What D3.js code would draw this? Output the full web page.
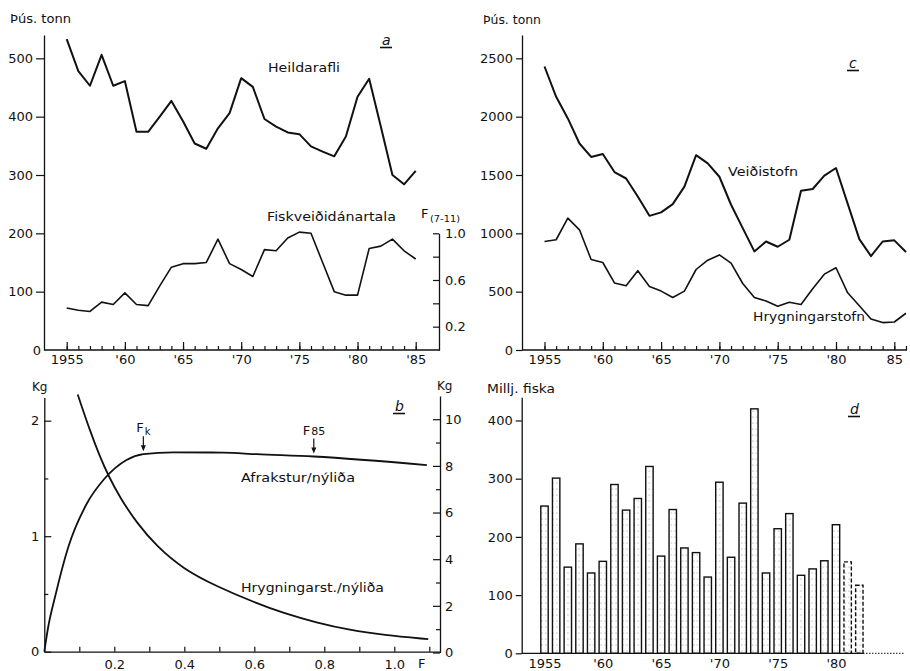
<!DOCTYPE html>
<html>
<head>
<meta charset="utf-8">
<script src="https://cdn.jsdelivr.net/npm/d3@7"></script>
<style>
  body { margin: 0; background: #fff; }
  svg { display: block; background: #fff; }
</style>
</head>
<body>
<svg id="chart" width="910" height="671"></svg>
<script>
// ---- data ----------------------------------------------------------------
// a: total catch (thousand tonnes) and fishing mortality F(7-11), 1955-1985
const yearsA = d3.range(1955, 1986);
const heildarafli = [533, 478, 453, 506, 453, 461, 374, 374, 400, 427, 392, 354, 345, 380, 406,
                     466, 451, 396, 383, 373, 370, 349, 340, 332, 366, 434, 465, 383, 300, 284, 307];
const fiskveidiF = [0.36, 0.34, 0.33, 0.41, 0.39, 0.49, 0.39, 0.38, 0.55, 0.71, 0.74, 0.74, 0.75, 0.95, 0.74,
                    0.69, 0.63, 0.86, 0.85, 0.96, 1.01, 1.00, 0.75, 0.50, 0.47, 0.47, 0.87, 0.89, 0.95, 0.85, 0.78];

// c: fishable stock and spawning stock (thousand tonnes), 1955-1986
const yearsC = d3.range(1955, 1987);
const veidistofn = [2430, 2170, 1985, 1770, 1655, 1680, 1525, 1470, 1315, 1150, 1180, 1250, 1400, 1670, 1600,
                    1485, 1245, 1045, 845, 930, 885, 945, 1365, 1380, 1495, 1560, 1255, 950, 805, 930, 940, 840];
const hrygningarstofn = [930, 945, 1130, 1030, 775, 750, 575, 550, 680, 545, 505, 450, 505, 690, 770,
                         815, 745, 570, 450, 420, 375, 410, 390, 525, 650, 705, 490, 380, 265, 235, 240, 315];

// d: recruits (millions of fish), 1955-1982; the last two are provisional
const yearsD = d3.range(1955, 1983);
const nylidar = [253, 301, 148, 188, 138, 158, 290, 246, 266, 321, 167, 247, 181, 173,
                 131, 294, 165, 258, 420, 138, 214, 240, 134, 145, 159, 221, 157, 117];
const provisionalYears = [1981, 1982];

// b: yield per recruit (kg, left) and spawning stock per recruit (kg, right) against F
const afraksturF  = [0, 0.0106, 0.032, 0.0677, 0.122, 0.1706, 0.2349, 0.2829, 0.3689, 0.511, 0.607, 0.77, 1.093];
const afraksturKg = [0, 0.205, 0.491, 0.898, 1.285, 1.493, 1.66, 1.71, 1.726, 1.724, 1.71, 1.69, 1.615];
const hrygnF  = [0.0954, 0.1306, 0.159, 0.183, 0.217, 0.264, 0.321, 0.397, 0.493, 0.6, 0.683, 0.778, 0.873, 0.969, 1.097];
const hrygnKg = [11.06, 9.50, 8.39, 7.58, 6.62, 5.56, 4.55, 3.58, 2.83, 2.15, 1.69, 1.28, 0.96, 0.75, 0.57];
const refPoints = [{ name: "k", F: 0.283 }, { name: "85", F: 0.77 }];

// tick labels
const tickYears = [1955, 1960, 1965, 1970, 1975, 1980, 1985];
const labelsA = ["1955", "'60", "'65", "'70", "'75", "'80", "'85"];
const labelsC = ["1955", "'60", "'65", "'70", "'75", "'80", "85"];
const labelsD = ["1955", "'60", "'65", "'70", "'75", "'80"];
const ticksA = [100, 200, 300, 400, 500];
const ticksAF = [0.2, 0.4, 0.6, 0.8, 1.0];
const labelsAF = [0.2, 0.6, 1.0];
const ticksC = [0, 500, 1000, 1500, 2000, 2500];
const ticksD = [0, 100, 200, 300, 400];
const ticksBL = [0, 0.5, 1, 1.5, 2];
const ticksBR = d3.range(0, 11);
const ticksBX = d3.range(1, 12).map(d => d / 10);
const labelsBX = [0.2, 0.4, 0.6, 0.8, 1.0];

// ---- setup ---------------------------------------------------------------
const FONT = '"DejaVu Sans", "Liberation Sans", sans-serif';
const INK = "#111";
const svg = d3.select("#chart");
const intFmt = d3.format("d");

function styleAxis(g, size = 13) {
  g.attr("font-family", FONT).attr("font-size", size);
  g.selectAll(".domain").attr("stroke", INK).attr("stroke-width", 1.3);
  g.selectAll(".tick line").attr("stroke", INK).attr("stroke-width", 1.2);
  g.selectAll(".tick text").attr("fill", INK);
}
function label(txt, x, y, opts = {}) {
  const t = svg.append("text").attr("x", x).attr("y", y)
    .attr("font-family", FONT).attr("font-size", opts.size || 12)
    .attr("fill", INK).text(txt);
  if (opts.len) t.attr("textLength", opts.len).attr("lengthAdjust", "spacingAndGlyphs");
  if (opts.anchor) t.attr("text-anchor", opts.anchor);
  if (opts.italic) t.attr("font-style", "italic");
  return t;
}
function panelLetter(ch, x, y) {
  label(ch, x, y, { size: 14, italic: true });
  svg.append("line").attr("x1", x - 2).attr("x2", x + 10).attr("y1", y + 2.5).attr("y2", y + 2.5)
    .attr("stroke", INK).attr("stroke-width", 1.6);
}
function yearAxis(g, x, y, years, majors, labels) {
  g.append("g").attr("transform", `translate(0,${y})`)
    .call(d3.axisBottom(x).tickValues(years).tickSize(-4).tickFormat(""))
    .call(s => s.select(".domain").remove()).call(styleAxis);
  g.append("g").attr("transform", `translate(0,${y})`)
    .call(d3.axisBottom(x).tickValues(majors).tickSize(-8).tickPadding(5)
      .tickFormat((d, i) => labels[i]))
    .call(s => s.select(".domain").remove()).call(styleAxis);
}

// ---- a: total catch and fishing mortality --------------------------------
{
  const x = d3.scaleLinear().domain([1955, 1985]).range([66.7, 415.7]);
  const y = d3.scaleLinear().domain([0, 540]).range([350, 35]);
  const yF = d3.scaleLinear().domain([0, 1]).range([350, 233.3]);
  const g = svg.append("g");

  g.append("line").attr("x1", 44).attr("x2", 440).attr("y1", y(0)).attr("y2", y(0))
    .attr("stroke", INK).attr("stroke-width", 1.3);
  yearAxis(g, x, y(0), yearsA, tickYears, labelsA);

  g.append("g").attr("transform", "translate(44,0)")
    .call(d3.axisLeft(y).tickValues(ticksA).tickSizeInner(8).tickSizeOuter(0).tickPadding(3).tickFormat(intFmt))
    .call(styleAxis);
  label("0", 41, y(0) + 5, { size: 13, anchor: "end" });

  g.append("g").attr("transform", "translate(439,0)")
    .call(d3.axisRight(yF).tickValues(ticksAF).tickSizeInner(-6).tickSizeOuter(0).tickPadding(6)
      .tickFormat(d => labelsAF.includes(d) ? d.toFixed(1) : ""))
    .call(styleAxis);

  g.append("path").datum(heildarafli)
    .attr("d", d3.line().x((d, i) => x(yearsA[i])).y(d => y(d)))
    .attr("fill", "none").attr("stroke", INK).attr("stroke-width", 2).attr("stroke-linejoin", "round");
  g.append("path").datum(fiskveidiF)
    .attr("d", d3.line().x((d, i) => x(yearsA[i])).y(d => yF(d)))
    .attr("fill", "none").attr("stroke", INK).attr("stroke-width", 1.6).attr("stroke-linejoin", "round");

  label("Þús. tonn", 10, 23, { size: 12, len: 61 });
  label("Heildarafli", 268, 72, { size: 12, len: 72 });
  label("Fiskveiðidánartala", 267, 221, { size: 12, len: 129 });
  label("F", 421, 218, { size: 13 });
  label("(7-11)", 430, 222, { size: 9, len: 30 });
  panelLetter("a", 382, 45);
}

// ---- c: fishable and spawning stock --------------------------------------
{
  const x = d3.scaleLinear().domain([1955, 1985]).range([544.5, 894.3]);
  const y = d3.scaleLinear().domain([0, 2700]).range([350, 35]);
  const g = svg.append("g");

  g.append("line").attr("x1", 522).attr("x2", 907).attr("y1", y(0)).attr("y2", y(0))
    .attr("stroke", INK).attr("stroke-width", 1.3);
  yearAxis(g, x, y(0), yearsC, tickYears, labelsC);

  g.append("g").attr("transform", "translate(522,0)")
    .call(d3.axisLeft(y).tickValues(ticksC).tickSizeInner(6).tickSizeOuter(0).tickPadding(3).tickFormat(intFmt))
    .call(styleAxis);

  g.append("path").datum(veidistofn)
    .attr("d", d3.line().x((d, i) => x(yearsC[i])).y(d => y(d)))
    .attr("fill", "none").attr("stroke", INK).attr("stroke-width", 2).attr("stroke-linejoin", "round");
  g.append("path").datum(hrygningarstofn)
    .attr("d", d3.line().x((d, i) => x(yearsC[i])).y(d => y(d)))
    .attr("fill", "none").attr("stroke", INK).attr("stroke-width", 1.6).attr("stroke-linejoin", "round");

  label("Þús. tonn", 483, 24, { size: 12, len: 58 });
  label("Veiðistofn", 728, 176, { size: 12, len: 70 });
  label("Hrygningarstofn", 753, 321, { size: 12, len: 112 });
  panelLetter("c", 849, 68);
}

// ---- b: yield and spawning stock per recruit -----------------------------
{
  const x = d3.scaleLinear().domain([0, 1.13]).range([44.3, 439.8]);
  const yL = d3.scaleLinear().domain([0, 2.2]).range([651.7, 397.6]);
  const yR = d3.scaleLinear().domain([0, 11]).range([652.5, 395.9]);
  const g = svg.append("g");

  g.append("g").attr("transform", `translate(0,${yL(0)})`)
    .call(d3.axisBottom(x).tickValues(ticksBX).tickSizeInner(-5).tickSizeOuter(0).tickPadding(8)
      .tickFormat(d => labelsBX.some(v => Math.abs(v - d) < 1e-9) ? d.toFixed(1) : ""))
    .call(styleAxis);
  label("F", 418, 668, { size: 13 });

  const gl = g.append("g").attr("transform", "translate(44.3,0)")
    .call(d3.axisLeft(yL).tickValues(ticksBL).tickSizeInner(-6).tickSizeOuter(0).tickPadding(5)
      .tickFormat(d => Number.isInteger(d) ? d : ""))
    .call(styleAxis);
  gl.selectAll(".tick line").attr("x2", d => Number.isInteger(d) ? 7 : 4);

  const gr = g.append("g").attr("transform", "translate(440,0)")
    .call(d3.axisRight(yR).tickValues(ticksBR).tickSizeInner(-6).tickSizeOuter(0).tickPadding(5)
      .tickFormat(d => d % 2 === 0 ? d : ""))
    .call(styleAxis);
  gr.selectAll(".tick line").attr("x2", d => d % 2 === 0 ? -7 : -4);

  const yieldPts = afraksturF.map((f, i) => [f, afraksturKg[i]]);
  const ssbPts = hrygnF.map((f, i) => [f, hrygnKg[i]]);
  g.append("path").datum(yieldPts)
    .attr("d", d3.line().curve(d3.curveMonotoneX).x(d => x(d[0])).y(d => yL(d[1])))
    .attr("fill", "none").attr("stroke", INK).attr("stroke-width", 1.8);
  g.append("path").datum(ssbPts)
    .attr("d", d3.line().curve(d3.curveBasis).x(d => x(d[0])).y(d => yR(d[1])))
    .attr("fill", "none").attr("stroke", INK).attr("stroke-width", 1.8);

  // reference-point arrows on the yield curve
  const yieldAt = d3.scaleLinear().domain(afraksturF).range(afraksturKg);
  refPoints.forEach(p => {
    const px = x(p.F), tip = yL(yieldAt(p.F)) - 3;
    g.append("line").attr("x1", px).attr("x2", px).attr("y1", tip - 15).attr("y2", tip - 3)
      .attr("stroke", INK).attr("stroke-width", 1.2);
    g.append("path").attr("d", `M${px - 2.5},${tip - 6}L${px},${tip}L${px + 2.5},${tip - 6}Z`)
      .attr("fill", INK);
  });
  const fk = x(refPoints[0].F), f85 = x(refPoints[1].F);
  label("F", fk - 7, 432, { size: 13 });
  label("k", fk + 1.5, 435, { size: 10 });
  label("F", f85 - 11, 435, { size: 13 });
  label("85", f85 - 2.5, 435, { size: 11 });

  label("Afrakstur/nýliða", 241, 482, { size: 12, len: 114 });
  label("Hrygningarst./nýliða", 241, 592, { size: 12, len: 143 });
  label("Kg", 32, 391, { size: 12 });
  label("Kg", 437, 390, { size: 12 });
  panelLetter("b", 395, 411);
}

// ---- d: recruitment bars --------------------------------------------------
{
  const x = d3.scaleLinear().domain([1955, 1985]).range([544.5, 894.3]);
  const y = d3.scaleLinear().domain([0, 440]).range([653.3, 397.2]);
  const g = svg.append("g");
  const bw = 7.4;

  const defs = svg.append("defs");
  const pat = defs.append("pattern").attr("id", "stipple").attr("patternUnits", "userSpaceOnUse")
    .attr("width", 3.7).attr("height", 6);
  pat.append("rect").attr("width", 3.7).attr("height", 6).attr("fill", "#fff");
  pat.append("circle").attr("cx", 1.85).attr("cy", 3).attr("r", 0.5).attr("fill", "#777");

  g.selectAll("rect.bar").data(nylidar).join("rect").attr("class", "bar")
    .attr("x", (d, i) => x(yearsD[i]) - bw / 2)
    .attr("width", bw)
    .attr("y", d => y(d))
    .attr("height", d => y(0) - y(d))
    .attr("fill", "url(#stipple)")
    .attr("stroke", INK).attr("stroke-width", 1.4)
    .attr("stroke-dasharray", (d, i) => provisionalYears.includes(yearsD[i]) ? "4,2" : null);

  const lastX = x(yearsD[yearsD.length - 1]) + bw / 2;
  g.append("line").attr("x1", 521.7).attr("x2", lastX).attr("y1", y(0)).attr("y2", y(0))
    .attr("stroke", INK).attr("stroke-width", 1.3);
  g.append("line").attr("x1", lastX).attr("x2", 905).attr("y1", y(0)).attr("y2", y(0))
    .attr("stroke", INK).attr("stroke-width", 1).attr("stroke-dasharray", "1.5,1.5");

  g.append("g").attr("transform", `translate(0,${y(0)})`)
    .call(d3.axisBottom(x).tickValues(tickYears.slice(0, 6)).tickSize(0).tickPadding(5)
      .tickFormat((d, i) => labelsD[i]))
    .call(s => s.select(".domain").remove()).call(styleAxis);

  g.append("g").attr("transform", "translate(521.7,0)")
    .call(d3.axisLeft(y).tickValues(ticksD).tickSizeInner(6).tickSizeOuter(0).tickPadding(3).tickFormat(intFmt))
    .call(styleAxis);

  label("Millj. fiska", 487, 393, { size: 12, len: 68 });
  panelLetter("d", 850, 414);
}
</script>
</body>
</html>
